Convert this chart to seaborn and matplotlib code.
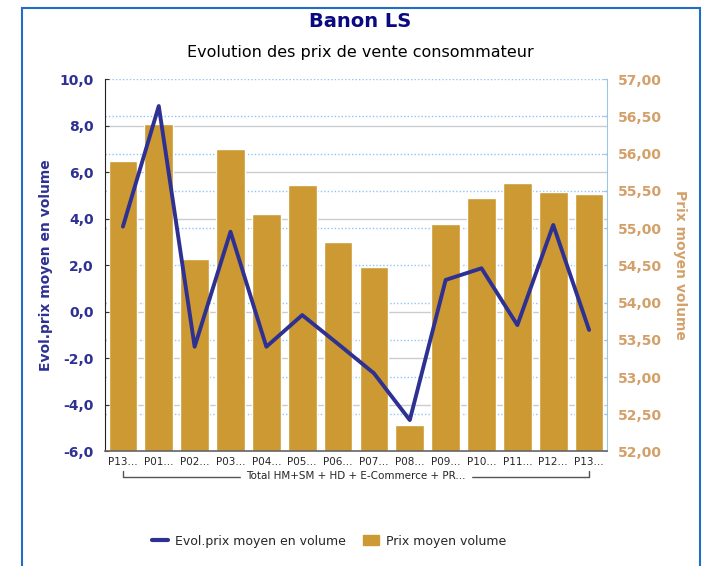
import matplotlib
matplotlib.use("Agg")
import matplotlib.pyplot as plt
import numpy as np
import pandas as pd
import seaborn as sns
from matplotlib.lines import Line2D
from matplotlib.patches import Patch, Rectangle
from matplotlib.ticker import FuncFormatter

periodes = ["P13...", "P01...", "P02...", "P03...", "P04...", "P05...", "P06...",
            "P07...", "P08...", "P09...", "P10...", "P11...", "P12...", "P13..."]
prix_moyen = [55.90, 56.40, 54.58, 56.06, 55.19, 55.58, 54.81,
              54.48, 52.36, 55.05, 55.40, 55.60, 55.48, 55.46]
evol_prix = [3.66, 8.84, -1.50, 3.44, -1.50, -0.14, -1.38,
             -2.64, -4.65, 1.37, 1.87, -0.57, 3.73, -0.78]
groupe = "Total HM+SM + HD + E-Commerce + PR..."

NAVY = "#2E3192"
TAN = "#D4A06A"
BAR = "#CC9933"

df = pd.DataFrame({"periode": range(len(periodes)), "prix": prix_moyen, "evol": evol_prix})

sns.set_style("white")
plt.rcParams["font.family"] = ["DejaVu Sans"]

fig = plt.figure(figsize=(7.06, 5.66), dpi=100)
ax = fig.add_axes([0.1487, 0.2023, 0.7111, 0.6581])
ax2 = ax.twinx()

# barres sur l'axe de droite (axe du bas, dessiné en dessous)
sns.barplot(data=df, x="periode", y="prix", color=BAR, saturation=1, width=0.8,
            ax=ax, zorder=2)
ax.set_ylim(52, 57)
ax.set_yticks(np.arange(52, 57.01, 0.5))
ax.set_yticks(np.linspace(52, 57, 9), minor=True)
ax.yaxis.set_major_formatter(FuncFormatter(lambda v, p: f"{v:.2f}".replace(".", ",")))
ax.grid(axis="y", which="major", color="#8FC4F5", linestyle=(0, (1, 1.5)), linewidth=1)
ax.grid(axis="y", which="minor", color="#CCCCCC", linestyle="-", linewidth=1)
ax.set_axisbelow(True)
ax.set_xlabel("")
ax.set_xticks(range(len(periodes)))
ax.set_xticklabels(periodes, fontsize=7.5)
ax.tick_params(axis="x", length=0, pad=4)
ax.set_xlim(-0.5, len(periodes) - 0.5)

# ligne sur l'axe de gauche
sns.lineplot(data=df, x="periode", y="evol", color=NAVY, linewidth=2.8, ax=ax2)
ax2.set_ylim(-6, 10)
ax2.set_yticks(np.arange(-6, 10.01, 2))
ax2.yaxis.set_major_formatter(FuncFormatter(lambda v, p: f"{v:.1f}".replace(".", ",")))
ax2.set_xlabel("")
ax2.grid(False)

# placement des axes : prix à droite, évolution à gauche
ax.yaxis.tick_right()
ax.yaxis.set_label_position("right")
ax2.yaxis.tick_left()
ax2.yaxis.set_label_position("left")

ax.tick_params(axis="y", which="major", labelsize=10, labelcolor=TAN, length=3,
               color="#9DC3E6", direction="in", pad=8, left=False, labelleft=False,
               right=True, labelright=True)
ax.tick_params(axis="y", which="minor", length=0)
ax2.tick_params(axis="y", labelsize=10, labelcolor=NAVY, length=3, direction="in",
                color="#333333", pad=8, right=False, labelright=False,
                left=True, labelleft=True)
for lab in ax.get_yticklabels() + ax2.get_yticklabels():
    lab.set_fontweight("bold")

ax.set_ylabel("Prix moyen volume", color=TAN, fontsize=10, fontweight="bold",
              rotation=-90, labelpad=18)
ax2.set_ylabel("Evol.prix moyen en volume", color=NAVY, fontsize=10,
               fontweight="bold", labelpad=5)

for a in (ax, ax2):
    a.spines["top"].set_visible(False)
ax2.spines["left"].set_color("#222222")
ax2.spines["right"].set_color("#9DC3E6")
ax2.spines["bottom"].set_color("#666666")
ax2.spines["bottom"].set_linewidth(1.2)
for s in ("left", "right", "bottom"):
    ax.spines[s].set_visible(False)

# accolade de groupe sous les périodes
ax.annotate(groupe, xy=(0.5, -0.066), xycoords="axes fraction", ha="center",
            va="center", fontsize=7.5, backgroundcolor="white", zorder=5)
y_br = -0.068
ax.plot([0.035, 0.035, 0.965, 0.965], [y_br + 0.015, y_br, y_br, y_br + 0.015],
        transform=ax.transAxes, color="#555555", linewidth=1, clip_on=False, zorder=4)

fig.text(0.51, 0.962, "Banon LS", ha="center", va="center", fontsize=14,
         fontweight="bold", color="#0A0A80")
fig.text(0.51, 0.907, "Evolution des prix de vente consommateur", ha="center",
         va="center", fontsize=11.5, color="black")

handles = [Line2D([0], [0], color=NAVY, linewidth=3),
           Patch(facecolor=BAR, edgecolor=BAR)]
fig.legend(handles, ["Evol.prix moyen en volume", "Prix moyen volume"],
           loc="center", bbox_to_anchor=(0.466, 0.044), ncol=2, frameon=False,
           fontsize=9, handlelength=1.3, handleheight=0.9, columnspacing=1.4,
           handletextpad=0.5)

fig.patches.append(Rectangle((22 / 706, -0.05), 678 / 706, 1.05 - 8 / 566,
                             transform=fig.transFigure, fill=False,
                             edgecolor="#1F6FC5", linewidth=1.5))

fig.savefig("out.png", dpi=100)
